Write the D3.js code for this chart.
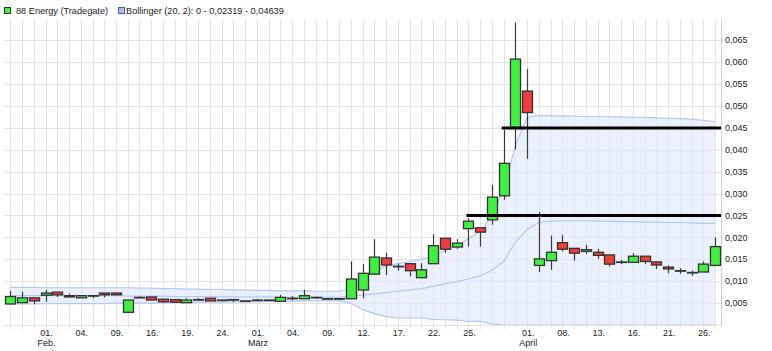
<!DOCTYPE html>
<html>
<head>
<meta charset="utf-8">
<script src="https://cdn.jsdelivr.net/npm/d3@7"></script>
<style>
  body { margin: 0; background: #fff; }
  svg { display: block; font-family: "Liberation Sans", Arial, sans-serif; }
</style>
</head>
<body>
<svg width="772" height="351"></svg>
<script>
// candles, one per trading day (Tradegate)
const open  = [0.0048,0.0051,0.0062,0.0068,0.0075,0.0064,0.0062,0.0067,0.0073,0.0073,
               0.0029,0.0063,0.0064,0.0059,0.0058,0.0051,0.0058,0.0061,0.0057,0.0058,
               0.0055,0.0057,0.0057,0.0054,0.0061,0.0060,0.0063,0.0060,0.0060,0.0060,
               0.0080,0.0116,0.0153,0.0134,0.0140,0.0108,0.0140,0.0198,0.0178,0.0220,
               0.0222,0.0240,0.0295,0.0449,0.0534,0.0136,0.0147,0.0188,0.0175,0.0168,
               0.0166,0.0160,0.0144,0.0143,0.0157,0.0144,0.0132,0.0124,0.0120,0.0121,0.0136];
const high  = [0.0078,0.0076,0.0062,0.0080,0.0075,0.0072,0.0067,0.0067,0.0073,0.0073,
               0.0057,0.0065,0.0064,0.0059,0.0059,0.0061,0.0061,0.0061,0.0057,0.0058,
               0.0055,0.0059,0.0057,0.0069,0.0066,0.0080,0.0065,0.0060,0.0060,0.0145,
               0.0139,0.0196,0.0165,0.0140,0.0140,0.0141,0.0207,0.0198,0.0196,0.0244,
               0.0222,0.0320,0.0445,0.0690,0.0584,0.0258,0.0204,0.0206,0.0175,0.0183,
               0.0174,0.0160,0.0149,0.0164,0.0157,0.0144,0.0136,0.0130,0.0124,0.0145,0.0200];
const low   = [0.0048,0.0051,0.0048,0.0053,0.0064,0.0064,0.0062,0.0061,0.0063,0.0069,
               0.0029,0.0062,0.0057,0.0050,0.0052,0.0051,0.0058,0.0055,0.0057,0.0052,
               0.0055,0.0057,0.0057,0.0054,0.0056,0.0060,0.0061,0.0060,0.0060,0.0060,
               0.0061,0.0116,0.0114,0.0124,0.0111,0.0108,0.0140,0.0165,0.0174,0.0179,
               0.0179,0.0229,0.0286,0.0401,0.0379,0.0121,0.0126,0.0168,0.0147,0.0162,
               0.0151,0.0134,0.0139,0.0143,0.0139,0.0128,0.0118,0.0117,0.0112,0.0121,0.0136];
const close = [0.0065,0.0062,0.0055,0.0073,0.0069,0.0067,0.0067,0.0067,0.0069,0.0069,
               0.0057,0.0063,0.0057,0.0053,0.0052,0.0057,0.0058,0.0055,0.0057,0.0058,
               0.0055,0.0057,0.0057,0.0063,0.0061,0.0067,0.0063,0.0060,0.0060,0.0105,
               0.0118,0.0155,0.0137,0.0134,0.0124,0.0126,0.0181,0.0173,0.0187,0.0237,
               0.0212,0.0292,0.0369,0.0607,0.0485,0.0151,0.0166,0.0173,0.0164,0.0172,
               0.0159,0.0139,0.0144,0.0157,0.0145,0.0137,0.0128,0.0124,0.0120,0.0139,0.0179];

// Bollinger (20, 2)
const bbUpper  = [0.0086,0.0086,0.0086,0.0085,0.0085,0.0085,0.0085,0.0085,0.0085,0.0085,
                  0.0085,0.0084,0.0084,0.0083,0.0083,0.0082,0.0082,0.0081,0.0081,0.0080,
                  0.0080,0.0079,0.0079,0.0078,0.0078,0.0078,0.0077,0.0077,0.0077,0.0085,
                  0.0105,0.0125,0.0135,0.0140,0.0145,0.0150,0.0158,0.0170,0.0180,0.0198,
                  0.0212,0.0250,0.0310,0.0410,0.0475,0.0478,0.0478,0.0477,0.0477,0.0476,
                  0.0476,0.0475,0.0475,0.0474,0.0474,0.0473,0.0472,0.0471,0.0470,0.0467,0.0464];
const bbMiddle = [0.0067,0.0067,0.0067,0.0067,0.0067,0.0067,0.0067,0.0067,0.0067,0.0067,
                  0.0066,0.0066,0.0066,0.0066,0.0065,0.0065,0.0065,0.0065,0.0064,0.0064,
                  0.0064,0.0064,0.0064,0.0063,0.0063,0.0063,0.0063,0.0063,0.0063,0.0066,
                  0.0068,0.0071,0.0074,0.0077,0.0080,0.0083,0.0088,0.0094,0.0099,0.0105,
                  0.0112,0.0125,0.0145,0.0190,0.0218,0.0234,0.0237,0.0238,0.0238,0.0238,
                  0.0237,0.0237,0.0236,0.0236,0.0235,0.0235,0.0234,0.0234,0.0233,0.0232,0.0232];
const bbLower  = [0.0048,0.0048,0.0048,0.0049,0.0049,0.0049,0.0049,0.0049,0.0049,0.0050,
                  0.0050,0.0050,0.0050,0.0051,0.0051,0.0051,0.0052,0.0052,0.0052,0.0053,
                  0.0053,0.0053,0.0054,0.0054,0.0054,0.0055,0.0055,0.0055,0.0055,0.0050,
                  0.0035,0.0026,0.0019,0.0016,0.0016,0.0016,0.0013,0.0012,0.0011,0.0008,
                  0.0009,0.0002,0,0,0,0,0,0,0,0,
                  0,0,0,0,0,0,0,0,0,0,0];

// x axis labels (candle index -> text)
const tickIdx   = [3, 6, 9, 12, 15, 18, 21, 24, 27, 30, 33, 36, 39, 44, 47, 50, 53, 56, 59];
const tickDay   = ["01.","04.","09.","16.","19.","24.","01.","04.","09.","12.","17.","22.","25.","01.","08.","13.","16.","21.","26."];
const tickMonth = ["Feb.","","","","","","März","","","","","","","April","","","","",""];
const yTicks = [0.005,0.010,0.015,0.020,0.025,0.030,0.035,0.040,0.045,0.050,0.055,0.060,0.065];

// drawn support / resistance lines: level, starting candle
const lineLevel = [0.045, 0.025];
const lineStart = [42, 39];

const svg = d3.select('svg');
const plotL = 4.4, plotR = 721, plotT = 20, plotB = 325;

const idx = d3.range(open.length);
const x = d3.scaleBand().domain(idx).range([plotL, plotR]);
const cx = i => x(i) + x.bandwidth() / 2;
const y = d3.scaleLinear().domain([0, 0.06963]).range([plotB, plotT]);

// grid
const grid = svg.append('g').attr('stroke', '#e3e3e3').attr('shape-rendering', 'crispEdges');
grid.selectAll('line.v').data(idx).enter().append('line')
    .attr('x1', d => Math.round(cx(d)) + 0.5).attr('x2', d => Math.round(cx(d)) + 0.5)
    .attr('y1', plotT).attr('y2', plotB + 4);
grid.selectAll('line.h').data(yTicks).enter().append('line')
    .attr('x1', plotL).attr('x2', plotR + 3)
    .attr('y1', d => Math.round(y(d)) + 0.5).attr('y2', d => Math.round(y(d)) + 0.5);

// bollinger band
const area = d3.area().x((d, i) => cx(i)).y0((d, i) => y(bbLower[i])).y1(d => y(d));
svg.append('path').datum(bbUpper).attr('d', area)
    .attr('fill', '#dfe8fb').attr('fill-opacity', 0.65);
const line = d3.line().x((d, i) => cx(i)).y(d => y(d));
[bbUpper, bbMiddle, bbLower].forEach(s => {
  svg.append('path').datum(s).attr('d', line)
     .attr('fill', 'none').attr('stroke', '#b3c7ef').attr('stroke-width', 1.2);
});

// frame
svg.append('line').attr('x1', plotR + 0.5).attr('x2', plotR + 0.5).attr('y1', plotT).attr('y2', plotB + 1)
   .attr('stroke', '#d0d0d0');
svg.append('line').attr('x1', plotL).attr('x2', plotR).attr('y1', plotB + 0.5).attr('y2', plotB + 0.5)
   .attr('stroke', '#e3e3e3');

// candles
const bw = 10;
const candles = svg.append('g');
candles.selectAll('line.wick').data(idx).enter().append('line')
    .attr('x1', d => Math.round(cx(d)) + 0.5).attr('x2', d => Math.round(cx(d)) + 0.5)
    .attr('y1', d => y(high[d])).attr('y2', d => y(low[d]))
    .attr('stroke', '#3a3a3a').attr('stroke-width', 1.2);
candles.selectAll('rect').data(idx).enter().append('rect')
    .attr('x', d => Math.round(cx(d)) - bw / 2 + 0.5)
    .attr('width', bw)
    .attr('y', d => y(Math.max(open[d], close[d])))
    .attr('height', d => Math.max(0.5, Math.abs(y(open[d]) - y(close[d]))))
    .attr('fill', d => close[d] >= open[d] ? '#42ee42' : '#ee3d3d')
    .attr('stroke', '#333').attr('stroke-width', 1.3);

// horizontal marker lines
svg.selectAll('line.mark').data(lineLevel).enter().append('line')
    .attr('x1', (d, i) => cx(lineStart[i]) - 2).attr('x2', plotR)
    .attr('y1', d => y(d)).attr('y2', d => y(d))
    .attr('stroke', '#000').attr('stroke-width', 3);

// y axis
const fmt = d => d3.format('.3f')(d).replace('.', ',');
svg.append('g').selectAll('text').data(yTicks).enter().append('text')
    .attr('x', plotR + 4).attr('y', d => y(d) + 3.2)
    .attr('font-size', 9).attr('fill', '#222').text(fmt);

// x axis
const xa = svg.append('g').attr('font-size', 9).attr('fill', '#222').attr('text-anchor', 'middle');
xa.selectAll('text.d').data(tickIdx).enter().append('text')
    .attr('x', d => cx(d) + 1).attr('y', 335.5).text((d, i) => tickDay[i]);
xa.selectAll('text.m').data(tickIdx).enter().append('text')
    .attr('x', d => cx(d) + 1).attr('y', 346).text((d, i) => tickMonth[i]);

// legend
const lg = svg.append('g').attr('font-size', 9.2).attr('fill', '#222');
lg.append('rect').attr('x', 4.5).attr('y', 7.5).attr('width', 6).attr('height', 6)
  .attr('fill', '#42ee42').attr('stroke', '#333');
lg.append('text').attr('x', 16).attr('y', 14).text('88 Energy (Tradegate)');
lg.append('rect').attr('x', 118.5).attr('y', 7.5).attr('width', 6).attr('height', 6)
  .attr('fill', '#a9c0ec').attr('stroke', '#4a64a0');
lg.append('text').attr('x', 126).attr('y', 14).text('Bollinger (20, 2): 0 - 0,02319 - 0,04639');
</script>
</body>
</html>
